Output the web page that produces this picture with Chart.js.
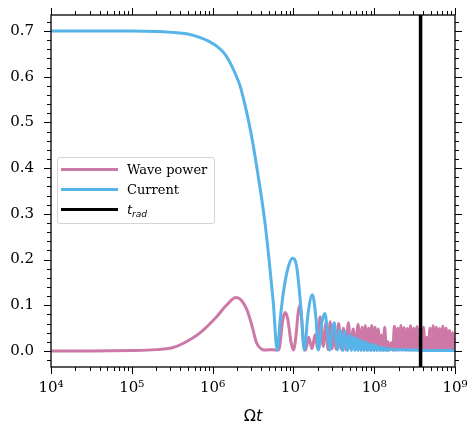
<!DOCTYPE html>
<html>
<head>
<meta charset="utf-8">
<script src="https://cdn.jsdelivr.net/npm/chart.js@4"></script>
<style>
  body { margin: 0; background: #fff; }
  #wrap { position: relative; width: 469px; height: 424px; }
  #legend {
    position: absolute; left: 57px; top: 157px; width: 158px; height: 67px;
    box-sizing: border-box; border: 1px solid #d4d4d4; border-radius: 3px;
    background: rgba(255,255,255,0.8);
    font-family: 'DejaVu Serif', serif; font-size: 13px; color: #000;
  }
  .swatch { position: absolute; left: 3px; width: 57px; height: 3px; }
  .lbl { position: absolute; left: 69px; line-height: 13px; white-space: nowrap; }
  .math { font-family: 'DejaVu Sans', sans-serif; font-style: italic; }
  .sub { font-size: 9px; position: relative; top: 3px; }
  #xtitle {
    position: absolute; left: 51px; width: 404px; top: 408px; text-align: center;
    font-family: 'DejaVu Sans', sans-serif; font-size: 16px; line-height: 16px; color: #000;
  }
</style>
</head>
<body>
<div id="wrap">
  <canvas id="chart" width="469" height="424"></canvas>
  <div id="legend">
    <div class="swatch" style="top:10px; background:#CC79A7"></div>
    <div class="lbl" style="top:5px">Wave power</div>
    <div class="swatch" style="top:30px; background:#56B4E9"></div>
    <div class="lbl" style="top:25px">Current</div>
    <div class="swatch" style="top:50px; background:#000"></div>
    <div class="lbl" style="top:45px"><span class="math">t</span><span class="math sub">rad</span></div>
  </div>
  <div id="xtitle">Ω<span class="math">t</span></div>
</div>
<script>
// axes
const xMin = 1e4, xMax = 1e9;
const yMin = -0.035, yMax = 0.735;
const xTicks = [1e4, 1e5, 1e6, 1e7, 1e8, 1e9];
const xTickLabels = ['10⁴', '10⁵', '10⁶', '10⁷', '10⁸', '10⁹'];
const yTicks = [0, 0.1, 0.2, 0.3, 0.4, 0.5, 0.6, 0.7];
const yTickLabels = ['0.0', '0.1', '0.2', '0.3', '0.4', '0.5', '0.6', '0.7'];

// t_rad marker
const tRad = 3.75e8;

// Wave power (x given as log10 of Omega t)
const waveRiseLogT = [4.0, 4.5, 5.0, 5.3, 5.5, 5.64, 5.84, 6.05, 6.17, 6.29, 6.35, 6.42, 6.48, 6.546, 6.61, 6.66, 6.72, 6.78, 6.81];
const waveRise = [0.0, 0.0, 0.001, 0.003, 0.007, 0.017, 0.039, 0.075, 0.10, 0.117, 0.112, 0.092, 0.06, 0.017, 0.004, 0.002, 0.003, 0.002, 0.002];
const waveMidLogT = [6.83, 6.87, 6.9, 6.93, 6.97, 7.0, 7.03, 7.06, 7.08, 7.10, 7.13, 7.15, 7.19, 7.23, 7.27, 7.30, 7.33, 7.37, 7.40, 7.43, 7.455, 7.48];
const waveMid = [0.01, 0.07, 0.084, 0.07, 0.02, 0.002, 0.03, 0.085, 0.10, 0.075, 0.01, 0.002, 0.03, 0.005, 0.036, 0.005, 0.075, 0.01, 0.06, 0.003, 0.064, 0.005];
const waveTailLogT = [7.50, 7.53, 7.56, 7.59, 7.62, 7.65, 7.68, 7.71, 7.74, 7.77, 7.80, 7.83,
  7.85, 7.87, 7.89, 7.91, 7.93, 7.95, 7.97, 7.99, 8.01, 8.03, 8.05, 8.07, 8.09, 8.11, 8.13, 8.15,
  8.17, 8.19, 8.21, 8.23, 8.25, 8.27, 8.29, 8.31, 8.33, 8.35, 8.37, 8.39, 8.41, 8.43, 8.45, 8.47,
  8.49, 8.51, 8.53, 8.55, 8.57, 8.59, 8.61, 8.63, 8.65, 8.67, 8.69, 8.71, 8.73, 8.75, 8.77, 8.79,
  8.81, 8.83, 8.85, 8.87, 8.89, 8.91, 8.93, 8.95, 8.97, 8.99, 9.0];
const waveTail = [0.055, 0.004, 0.060, 0.004, 0.050, 0.003, 0.062, 0.004, 0.048, 0.003, 0.058, 0.003,
  0.052, 0.002, 0.055, 0.002, 0.050, 0.002, 0.056, 0.002, 0.052, 0.002, 0.048, 0.002, 0.035, 0.002, 0.052, 0.002,
  0.020, 0.002, 0.018, 0.002, 0.054, 0.002, 0.050, 0.002, 0.056, 0.002, 0.051, 0.002, 0.049, 0.002, 0.055, 0.002,
  0.050, 0.002, 0.053, 0.002, 0.048, 0.002, 0.052, 0.002, 0.030, 0.002, 0.050, 0.002, 0.055, 0.002, 0.052, 0.002,
  0.049, 0.002, 0.054, 0.002, 0.050, 0.002, 0.045, 0.002, 0.040, 0.002, 0.030];

// Current
const currentMainLogT = [4.0, 4.5, 5.0, 5.3, 5.5, 5.63, 5.75, 5.84, 5.95, 6.05, 6.15, 6.215, 6.28, 6.34, 6.40, 6.45, 6.50, 6.55, 6.60, 6.65, 6.70, 6.75, 6.80,
  6.84, 6.875, 6.937, 6.99, 7.04, 7.09, 7.135, 7.18, 7.235, 7.28, 7.31, 7.35, 7.39, 7.42, 7.45, 7.48, 7.505, 7.525, 7.545, 7.56, 7.576];
const currentMain = [0.700, 0.700, 0.700, 0.699, 0.697, 0.695, 0.691, 0.686, 0.678, 0.667, 0.650, 0.631, 0.607, 0.580, 0.539, 0.499, 0.453, 0.399, 0.342, 0.278, 0.198, 0.108, 0.002,
  0.075, 0.127, 0.184, 0.203, 0.185, 0.10, 0.002, 0.08, 0.123, 0.07, 0.002, 0.06, 0.082, 0.045, 0.002, 0.045, 0.062, 0.03, 0.002, 0.03, 0.046];
const currentTailLogT = [7.61, 7.64, 7.67, 7.70, 7.72, 7.74, 7.76, 7.78, 7.80, 7.82, 7.84, 7.86, 7.88, 7.90, 7.92, 7.94, 7.96, 7.98,
  8.00, 8.02, 8.04, 8.06, 8.08, 8.10, 8.12, 8.14, 8.16, 8.20, 8.25, 8.35, 8.5, 8.7, 9.0];
const currentTail = [0.001, 0.042, 0.001, 0.035, 0.001, 0.031, 0.001, 0.028, 0.001, 0.025, 0.001, 0.022, 0.001, 0.019, 0.001, 0.016, 0.001, 0.014,
  0.001, 0.012, 0.001, 0.010, 0.001, 0.008, 0.001, 0.007, 0.001, 0.005, 0.002, 0.003, 0.002, 0.001, 0.001];

function toPoints(logT, vals) {
  return logT.map((e, i) => ({ x: Math.pow(10, e), y: vals[i] }));
}

const wavePoints = toPoints(waveRiseLogT.concat(waveMidLogT, waveTailLogT), waveRise.concat(waveMid, waveTail));
const currentPoints = toPoints(currentMainLogT.concat(currentTailLogT), currentMain.concat(currentTail));

// frame on all four sides with outward major/minor ticks
const frameTicks = {
  id: 'frameTicks',
  afterDatasetsDraw(chart) {
    const { ctx, chartArea: a, scales } = chart;
    const xs = scales.x, ys = scales.y;
    ctx.save();
    ctx.strokeStyle = '#000';
    ctx.lineWidth = 1;
    ctx.beginPath();
    const xTick = (v, len) => {
      const p = Math.round(xs.getPixelForValue(v)) + 0.5;
      ctx.moveTo(p, a.bottom); ctx.lineTo(p, a.bottom + len);
      ctx.moveTo(p, a.top); ctx.lineTo(p, a.top - len);
    };
    const yTick = (v, len) => {
      const p = Math.round(ys.getPixelForValue(v)) + 0.5;
      ctx.moveTo(a.left, p); ctx.lineTo(a.left - len, p);
      ctx.moveTo(a.right, p); ctx.lineTo(a.right + len, p);
    };
    xTicks.forEach(v => xTick(v, 7));
    for (let e = 4; e < 9; e++) {
      for (let m = 2; m <= 9; m++) xTick(m * Math.pow(10, e), 4);
    }
    yTicks.forEach(v => yTick(v, 7));
    for (let k = -1; k <= 36; k++) {
      if (k % 5 !== 0) yTick(k * 0.02, 4);
    }
    ctx.stroke();
    ctx.lineWidth = 1.3;
    ctx.strokeRect(a.left, a.top, a.right - a.left, a.bottom - a.top);
    ctx.restore();
  }
};

new Chart(document.getElementById('chart').getContext('2d'), {
  type: 'line',
  data: {
    datasets: [
      {
        label: 'Wave power', data: wavePoints,
        borderColor: '#CC79A7', borderWidth: 3, pointRadius: 0,
        cubicInterpolationMode: 'monotone', order: 2
      },
      {
        label: 'Current', data: currentPoints,
        borderColor: '#56B4E9', borderWidth: 3, pointRadius: 0,
        cubicInterpolationMode: 'monotone', order: 1
      },
      {
        label: 't_rad', data: [{ x: tRad, y: yMin }, { x: tRad, y: yMax }],
        borderColor: '#000', borderWidth: 3.5, pointRadius: 0, order: 0
      }
    ]
  },
  options: {
    responsive: false, animation: false,
    layout: { padding: { top: 15, right: 14, left: 0, bottom: 0 } },
    plugins: { legend: { display: false }, tooltip: { enabled: false } },
    scales: {
      x: {
        type: 'logarithmic', min: xMin, max: xMax,
        afterBuildTicks: s => { s.ticks = xTicks.map(v => ({ value: v })); },
        afterFit: s => { s.height = 57; s.paddingLeft = 0; s.paddingRight = 0; },
        grid: { display: false, drawTicks: false }, border: { display: false },
        ticks: {
          autoSkip: false, maxRotation: 0, padding: 12, color: '#000',
          font: { family: 'DejaVu Serif', size: 15 },
          callback: (v, i) => xTickLabels[i]
        }
      },
      y: {
        type: 'linear', min: yMin, max: yMax,
        afterBuildTicks: s => { s.ticks = yTicks.map(v => ({ value: v })); },
        afterFit: s => { s.width = 51; s.paddingTop = 0; s.paddingBottom = 0; },
        grid: { display: false, drawTicks: false }, border: { display: false },
        ticks: {
          autoSkip: false, padding: 17, color: '#000',
          font: { family: 'DejaVu Serif', size: 15 },
          callback: (v, i) => yTickLabels[i]
        }
      }
    }
  },
  plugins: [frameTicks]
});
</script>
</body>
</html>
